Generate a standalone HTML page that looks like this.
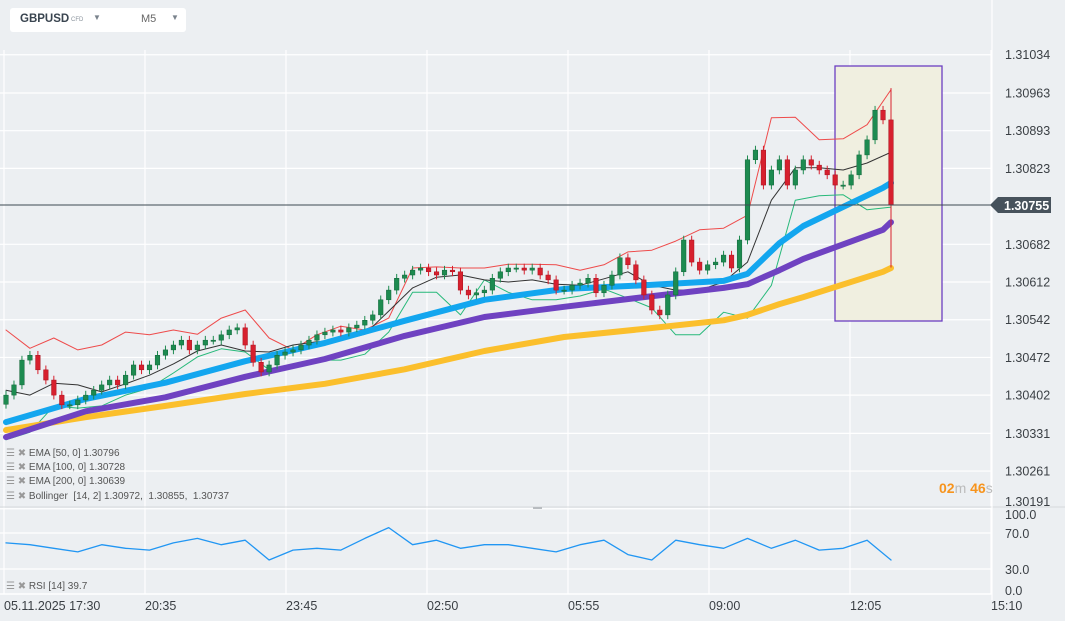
<!DOCTYPE html>
<html><head><meta charset="utf-8">
<style>
html,body{margin:0;padding:0;background:#eceff2;}
body{width:1065px;height:621px;overflow:hidden;position:relative;font-family:"Liberation Sans",sans-serif;}
svg{position:absolute;left:0;top:0;}
</style></head>
<body>
<svg id="chart" width="1065" height="621" viewBox="0 0 1065 621" xmlns="http://www.w3.org/2000/svg">
<rect x="0" y="0" width="1065" height="621" fill="#eceff2"/>
<g id="grid"></g>
<rect x="835" y="66" width="107" height="255" fill="#f0efe0" stroke="#6b3fc2" stroke-width="1.3"/>
<g id="bands"></g>
<g id="emas"></g>
<g id="candles"></g>
<g id="axes"></g>
<g id="rsi"></g>
</svg>

<div style="position:absolute;left:10px;top:8px;width:176px;height:24px;background:#fff;border-radius:3px;">
  <span style="position:absolute;left:10px;top:5px;font-size:11.5px;font-weight:bold;color:#3a4550;">GBPUSD</span>
  <span style="position:absolute;left:61px;top:9px;font-size:6px;color:#8a939c;">CFD</span>
  <span style="position:absolute;left:83px;top:5px;font-size:8px;color:#7a838c;">▼</span>
  <span style="position:absolute;left:131px;top:5px;font-size:11px;color:#666;">M5</span>
  <span style="position:absolute;left:161px;top:5px;font-size:8px;color:#7a838c;">▼</span>
</div>

<div style="position:absolute;left:6px;top:447px;font-size:10px;color:#555;line-height:14.2px;">
  <div><span style="color:#999">☰ ✖</span> EMA [50, 0] 1.30796</div>
  <div><span style="color:#999">☰ ✖</span> EMA [100, 0] 1.30728</div>
  <div><span style="color:#999">☰ ✖</span> EMA [200, 0] 1.30639</div>
  <div><span style="color:#999">☰ ✖</span> Bollinger &nbsp;[14, 2] 1.30972, &nbsp;1.30855, &nbsp;1.30737</div>
</div>
<div style="position:absolute;left:6px;top:581px;font-size:10px;color:#555;"><span style="color:#999">☰ ✖</span> RSI [14] 39.7</div>
<div style="position:absolute;left:939px;top:480px;font-size:14px;color:#f7941d;font-weight:bold;">02<span style="color:#bbb;font-weight:normal">m</span> 46<span style="color:#bbb;font-weight:normal">s</span></div>

<script>
const closes=[1.30402,1.30421,1.30467,1.30476,1.30449,1.30430,1.30402,1.30384,1.30384,1.30393,
1.30402,1.30411,1.30421,1.30430,1.30421,1.30439,1.30458,1.30449,1.30458,1.30476,
1.30486,1.30495,1.30504,1.30486,1.30495,1.30504,1.30504,1.30514,1.30523,1.30527,
1.30495,1.30463,1.30445,1.30458,1.30476,1.30482,1.30486,1.30495,1.30504,1.30514,
1.30519,1.30523,1.30519,1.30527,1.30532,1.30541,1.30551,1.30579,1.30597,1.30619,
1.30625,1.30634,1.30638,1.30631,1.30625,1.30634,1.30631,1.30597,1.30588,1.30592,
1.30597,1.30619,1.30631,1.30638,1.30638,1.30634,1.30638,1.30625,1.30616,1.30597,
1.30597,1.30606,1.30610,1.30619,1.30592,1.30606,1.30625,1.30657,1.30644,1.30616,
1.30588,1.30560,1.30551,1.30588,1.30631,1.30690,1.30649,1.30634,1.30644,1.30649,
1.30662,1.30638,1.30690,1.30839,1.30857,1.30792,1.30820,1.30839,1.30792,1.30820,
1.30839,1.30829,1.30820,1.30811,1.30792,1.30792,1.30811,1.30848,1.30876,1.30931,
1.30913,1.30755];
const firstOpen=1.30385;
const lastLow=1.30639;
const lastHigh=1.30972;

const emaIdx=[0,10,20,30,40,50,60,70,80,90,93,97,100,110,111];
const ema50=[1.30352,1.30395,1.30425,1.30465,1.30499,1.30540,1.30579,1.30599,1.30606,1.30614,1.30627,1.30684,1.30716,1.30787,1.30796];
const ema100=[1.30324,1.30372,1.30398,1.30436,1.30469,1.30512,1.30547,1.30566,1.30584,1.30601,1.30608,1.30634,1.30655,1.30709,1.30723];
const ema200=[1.30337,1.30361,1.30382,1.30404,1.30423,1.30450,1.30484,1.30510,1.30525,1.30541,1.30551,1.30571,1.30584,1.30631,1.30638];

const bandStep=3;
const bbUpper=[1.30523,1.30489,1.30508,1.30486,1.30495,1.30519,1.30514,1.30523,1.30515,1.30545,1.30560,1.30508,1.30486,1.30514,1.30530,1.30523,1.30545,1.30638,1.30640,1.30638,1.30638,1.30645,1.30645,1.30644,1.30634,1.30644,1.30668,1.30671,1.30688,1.30709,1.30712,1.30736,1.30917,1.30918,1.30876,1.30878,1.30904,1.30969];
const bbMid=[1.30411,1.30402,1.30424,1.30421,1.30408,1.30423,1.30439,1.30460,1.30484,1.30495,1.30484,1.30482,1.30495,1.30501,1.30504,1.30515,1.30558,1.30601,1.30621,1.30625,1.30616,1.30612,1.30616,1.30608,1.30606,1.30618,1.30631,1.30606,1.30597,1.30597,1.30612,1.30649,1.30764,1.30824,1.30824,1.30820,1.30833,1.30853];
const bbLower=[1.30319,1.30333,1.30382,1.30378,1.30382,1.30402,1.30415,1.30443,1.30473,1.30488,1.30482,1.30449,1.30458,1.30467,1.30467,1.30478,1.30519,1.30593,1.30593,1.30551,1.30616,1.30593,1.30579,1.30579,1.30586,1.30599,1.30582,1.30564,1.30514,1.30514,1.30556,1.30545,1.30606,1.30764,1.30772,1.30774,1.30746,1.30751];
const rsiVals=[59,57,53,49,57,53,51,59,64,57,62,40,51,53,51,64,76,57,62,53,57,57,53,49,57,62,46,40,62,57,53,64,53,62,51,53,62,40];

const priceTicks=[1.31034,1.30963,1.30893,1.30823,1.30682,1.30612,1.30542,1.30472,1.30402,1.30331,1.30261,1.30191];
const rsiTicks=[100,70,30,0];
const timeLabels=["05.11.2025  17:30","20:35","23:45","02:50","05:55","09:00","12:05","15:10"];
const currentPrice=1.30755;

const NS="http://www.w3.org/2000/svg";
const X0=6, DX=885/111;
function xOf(i){return X0+i*DX;}
function yOf(p){return 205-(p-1.30755)*53860;}
function yRsi(v){return 596-v*0.9;}
function el(tag,attrs,parent){const e=document.createElementNS(NS,tag);for(const k in attrs)e.setAttribute(k,attrs[k]);parent.appendChild(e);return e;}

const grid=document.getElementById('grid');
priceTicks.forEach(p=>{const l=el('line',{x1:0,x2:992,y1:yOf(p),y2:yOf(p),stroke:'#ffffff','stroke-width':1.2},grid);

});
[70,30].forEach(v=>{const l=el('line',{x1:0,x2:992,y1:yRsi(v),y2:yRsi(v),stroke:'#ffffff','stroke-width':1.2},grid);

});
timeLabels.forEach((t,k)=>{const x=4+k*141;const l=el('line',{x1:x,x2:x,y1:50,y2:594,stroke:'#ffffff','stroke-width':1.2},grid);

});
const sep=el('line',{x1:0,x2:1065,y1:507,y2:507,stroke:'#d6d9dc','stroke-width':1},grid);


const bl=el('line',{x1:0,x2:992,y1:594,y2:594,stroke:'#ffffff','stroke-width':1.5},grid);


const handle=el('rect',{x:533,y:507,width:9,height:2,fill:'#b8bcc0'},grid);



function polyline(idxs,vals,yf,color,w,parent,name){
  const pts=vals.map((v,k)=>xOf(idxs(k)).toFixed(1)+','+yf(v).toFixed(1)).join(' ');
  const p=el('polyline',{points:pts,fill:'none',stroke:color,'stroke-width':w,'stroke-linejoin':'round','stroke-linecap':'round'},parent);
  
  
  return p;
}
const bands=document.getElementById('bands');
polyline(k=>k*bandStep>111?111:k*bandStep,bbUpper,yOf,'#ee4b4b',1,bands,'bollinger-upper');
polyline(k=>k*bandStep>111?111:k*bandStep,bbLower,yOf,'#27b97a',1,bands,'bollinger-lower');
polyline(k=>k*bandStep>111?111:k*bandStep,bbMid,yOf,'#333333',1,bands,'bollinger-middle');

const emas=document.getElementById('emas');
polyline(k=>emaIdx[k],ema200,yOf,'#fbbf2c',6,emas,'ema-200-line');
polyline(k=>emaIdx[k],ema100,yOf,'#6f42c1',6,emas,'ema-100-line');
polyline(k=>emaIdx[k],ema50,yOf,'#13a6ef',6,emas,'ema-50-line');

const cg=document.getElementById('candles');
closes.forEach((c,i)=>{
  const o=i===0?firstOpen:closes[i-1];
  const up=c>=o;
  const col=up?'#1d8b50':'#d7202e';
  const x=xOf(i);
  let hi=Math.max(o,c)+0.00008, lo=Math.min(o,c)-0.00008;
  if(i===closes.length-1){hi=lastHigh;lo=lastLow;}
  const w=el('line',{x1:x,x2:x,y1:yOf(hi),y2:yOf(lo),stroke:col,'stroke-width':1},cg);
  
  
  const yt=yOf(Math.max(o,c)), yb=yOf(Math.min(o,c));
  const b=el('rect',{x:x-2.3,y:yt,width:4.6,height:Math.max(1.2,yb-yt),fill:col,stroke:up?'#13663a':'#a8121e','stroke-width':0.5},cg);
  
  
});

const ax=document.getElementById('axes');
const cp=el('line',{x1:0,x2:992,y1:yOf(currentPrice),y2:yOf(currentPrice),stroke:'#3d4851','stroke-width':1},ax);


const vline=el('line',{x1:992,x2:992,y1:0,y2:600,stroke:'#ffffff','stroke-width':1.2},ax);


priceTicks.forEach(p=>{const ty=Math.min(yOf(p)+4.5,506);const t=el('text',{x:1005,y:ty,'font-size':12.5,fill:'#3a3f44','font-family':'Liberation Sans, sans-serif'},ax);t.textContent=p.toFixed(5);

});
const cy=yOf(currentPrice);
const tag=el('path',{d:`M990 ${cy} L998 ${cy-8} L1051 ${cy-8} L1051 ${cy+8} L998 ${cy+8} Z`,fill:'#47525c'},ax);


const ct=el('text',{x:1004,y:cy+5,'font-size':12.5,'font-weight':'bold',fill:'#ffffff','font-family':'Liberation Sans, sans-serif'},ax);
ct.textContent=currentPrice.toFixed(5);


timeLabels.forEach((t,k)=>{const tx=el('text',{x:4+k*141,y:610,'font-size':12.5,fill:'#3a3f44','font-family':'Liberation Sans, sans-serif','xml:space':'preserve'},ax);tx.textContent=t;

});
const rsiLabelY={100:519,70:538,30:574,0:595};
rsiTicks.forEach(v=>{const t=el('text',{x:1005,y:rsiLabelY[v],'font-size':12.5,fill:'#3a3f44','font-family':'Liberation Sans, sans-serif'},ax);t.textContent=v.toFixed(1);

});

const rg=document.getElementById('rsi');
polyline(k=>k*bandStep>111?111:k*bandStep,rsiVals,yRsi,'#2196f3',1.3,rg,'rsi-line');
</script>
</body></html>
